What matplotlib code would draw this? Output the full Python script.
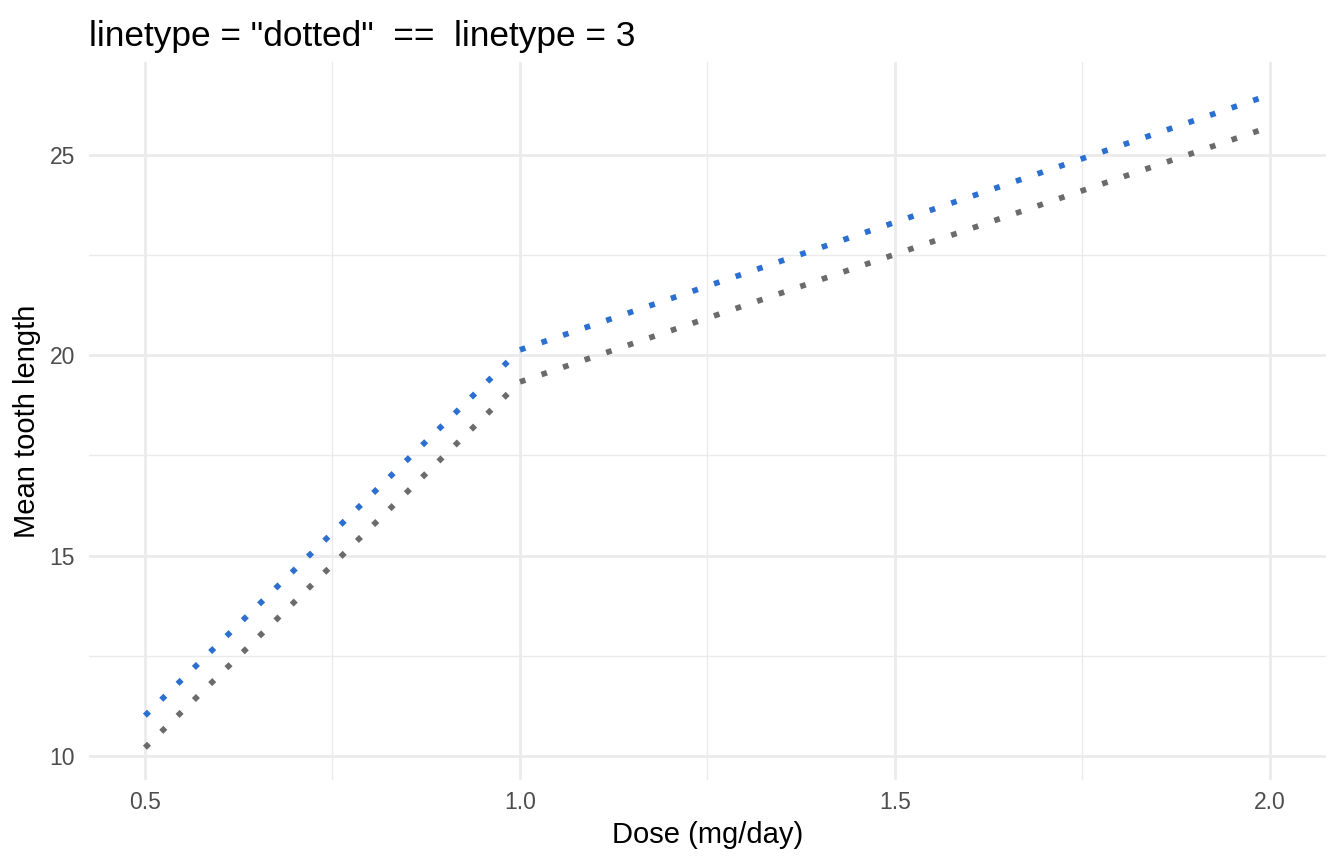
import matplotlib
matplotlib.use("Agg")
import matplotlib.pyplot as plt
from matplotlib.ticker import MultipleLocator

plt.rcParams['font.family'] = ['Liberation Sans', 'DejaVu Sans']

dose = [0.5, 1.0, 2.0]
len_low = [10.205, 19.335, 25.7]
len_high = [11.005, 20.135, 26.5]

fig = plt.figure(figsize=(13.44, 8.64), dpi=100)
ax = fig.add_axes([0.066, 0.0968, 0.9206, 0.8312])

ax.plot(dose, len_low, color="#6b6b6b", lw=4.1, linestyle=(0, (1, 3)),
        dash_capstyle="butt", solid_capstyle="butt", zorder=3)
ax.plot(dose, len_high, color="#2b6fd1", lw=4.1, linestyle=(0, (1, 3)),
        dash_capstyle="butt", solid_capstyle="butt", zorder=3)

ax.set_xlim(0.425, 2.075)
ax.set_ylim(9.39, 27.315)
ax.xaxis.set_major_locator(MultipleLocator(0.5))
ax.xaxis.set_minor_locator(MultipleLocator(0.25))
ax.yaxis.set_major_locator(MultipleLocator(5))
ax.yaxis.set_minor_locator(MultipleLocator(2.5))
ax.set_xticks([0.5, 1.0, 1.5, 2.0])
ax.set_xticklabels(["0.5", "1.0", "1.5", "2.0"])

ax.grid(which="major", color="#ebebeb", lw=2.0)
ax.grid(which="minor", color="#ebebeb", lw=1.0)
ax.set_axisbelow(True)
for s in ax.spines.values():
    s.set_visible(False)
ax.tick_params(which="both", length=0)
ax.tick_params(axis="both", labelsize=16.5, labelcolor="#4d4d4d")
ax.tick_params(axis="x", pad=8)
ax.tick_params(axis="y", pad=10)

ax.set_xlabel("Dose (mg/day)", fontsize=21, labelpad=5)
ax.set_ylabel("Mean tooth length", fontsize=21, labelpad=6)
ax.set_title('linetype = "dotted"  ==  linetype = 3', loc="left",
             fontsize=25.4, pad=12, x=0.0)

fig.savefig("out.png", dpi=100)
